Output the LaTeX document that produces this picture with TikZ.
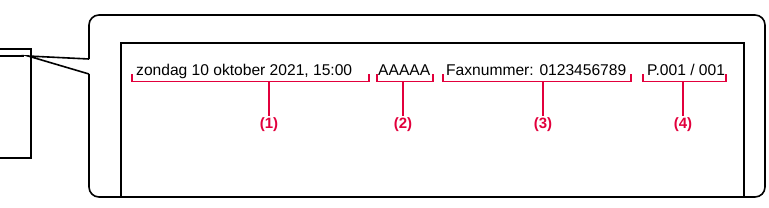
\documentclass[tikz,border=0pt]{standalone}
\usepackage{fontspec}
\setmainfont{Liberation Sans}
\usetikzlibrary{positioning,calc}
\definecolor{markred}{RGB}{226,0,60}
\tikzset{
  frame/.style={draw=black, line width=1.6pt},
  field/.style={font=\fontsize{15.6}{17}\selectfont, inner sep=0pt, anchor=base west},
  brace/.style={draw=markred, line width=1.2pt},
  num/.style={font=\fontsize{15}{17}\selectfont\bfseries, text=markred, inner sep=1.5pt},
}

\begin{document}
\begin{tikzpicture}[x=1pt,y=1pt]
  \useasboundingbox (0,0) rectangle (769,-207);
  % fax page and callout
  \draw[frame] (0,-49) -- (31,-49) -- (31,-158) -- (0,-158);
  \draw[frame] (0,-56) -- (24,-56);
  \draw[frame,rounded corners=10pt] (89,-59) -- (89,-15) -- (765,-15) -- (765,-197) -- (89,-197) -- (89,-74);
  \draw[frame,line join=miter] (89,-59) -- (28,-56) -- (89,-74);
  \draw[frame] (121,-197) -- (121,-43) -- (744,-43) -- (744,-197);
  % header fields
  \foreach \t/\tx/\l/\r/\m [count=\i] in {{zondag 10 oktober 2021, 15:00}/136/132/369/269,
      AAAAA/378/377/433/403, {Faxnummer: 0123456789}/446/443/631/543, {P.001 / 001}/647/643/726/683}{
    \node[field] (f\i) at (\tx,-75.5) {\t};
    \node[num] (n\i) at (\m,-124.5) {(\i)};
    \draw[brace] (\l,-74) -- (\l,-81.5) -- (\r,-81.5) -- (\r,-74);
    \draw[brace] (\m,-81.5) -- (n\i.north);
  }
\end{tikzpicture}
\end{document}
